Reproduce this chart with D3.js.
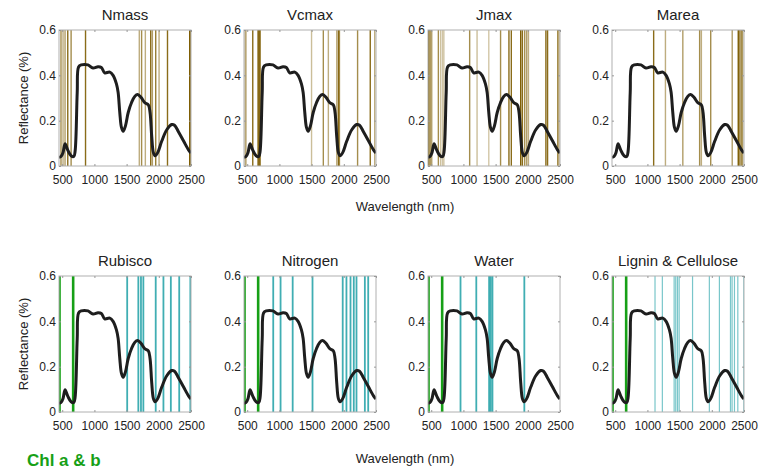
<!DOCTYPE html>
<html>
<head>
<meta charset="utf-8">
<script src="https://cdn.jsdelivr.net/npm/d3@7"></script>
<style>
  body { margin: 0; background: #fff; }
  text { font-family: "Liberation Sans", Arial, sans-serif; fill: #222; }
</style>
</head>
<body>
<svg id="chart" width="769" height="469"></svg>
<script>
// mean leaf reflectance spectrum
const wavelengths = [450, 481, 513, 544, 586, 638, 680, 700, 733, 754, 795, 900, 978, 1056, 1108, 1160,
  1238, 1290, 1342, 1368, 1394, 1420, 1447, 1483, 1525, 1577, 1629, 1671, 1723, 1786, 1838, 1864,
  1890, 1916, 1942, 1983, 2046, 2124, 2202, 2244, 2307, 2385, 2464, 2500];
const reflectance = [0.038, 0.042, 0.06, 0.098, 0.07, 0.045, 0.042, 0.065, 0.325, 0.437, 0.446, 0.446,
  0.432, 0.438, 0.435, 0.411, 0.414, 0.40, 0.362, 0.325, 0.236, 0.17, 0.153, 0.178, 0.236, 0.28, 0.308,
  0.315, 0.303, 0.278, 0.27, 0.236, 0.13, 0.059, 0.045, 0.059, 0.11, 0.16, 0.183, 0.18, 0.15, 0.11, 0.07, 0.057];

const xTicks = [500, 1000, 1500, 2000, 2500];
const yTicks = [0, 0.2, 0.4, 0.6];

// top row: selected bands per trait, with a weight (shade of the line)
const topTitles = ["Nmass", "Vcmax", "Jmax", "Marea"];
const nmassBands = [481, 513, 544, 586, 638, 862, 1697, 1733, 1791, 1874, 1900, 1952, 2004, 2135, 2480, 2496];
const nmassWeights = [0.7, 0.5, 0.6, 0.9, 0.7, 0.9, 0.5, 0.7, 0.5, 0.9, 0.6, 0.8, 0.5, 0.9, 1, 0.8];
const vcmaxBands = [466, 481, 586, 669, 685, 700, 1499, 1682, 1760, 1890, 1916, 1932, 2214, 2411, 2480];
const vcmaxWeights = [0.4, 0.5, 0.9, 1, 1, 0.9, 0.4, 0.7, 0.5, 0.5, 0.9, 0.7, 0.7, 0.9, 0.5];
const jmaxBands = [455, 481, 508, 611, 648, 680, 700, 1097, 1212, 1394, 1577, 1707, 1744, 1890, 1916,
  1952, 1983, 2010, 2281, 2307, 2464, 2484];
const jmaxWeights = [0.9, 0.9, 0.6, 0.7, 0.4, 0.4, 0.25, 0.7, 0.4, 0.35, 0.7, 0.9, 0.9, 1, 0.9,
  0.7, 0.6, 0.5, 0.9, 0.9, 0.7, 0.5];
const mareaBands = [1097, 1280, 1550, 1811, 1838, 1983, 2317, 2411, 2437, 2464, 2480];
const mareaWeights = [0.9, 0.5, 0.6, 0.7, 0.5, 0.7, 0.6, 1, 0.9, 0.7, 0.5];

// bottom row: known absorption features
const bottomTitles = ["Rubisco", "Nitrogen", "Water", "Lignin & Cellulose"];
const chlBands = [458, 670];
const rubiscoBands = [1509, 1682, 1723, 1760, 1952, 2072, 2187, 2317, 2490];
const nitrogenBands = [904, 1018, 1206, 1514, 1983, 2041, 2104, 2155, 2197, 2327, 2379];
const waterBands = [955, 1200, 1399, 1425, 1451, 1946];
const ligninBands = [1118, 1232, 1415, 1440, 1467, 1493, 1701, 1962, 2118, 2290, 2315, 2352, 2404, 2498];

const svg = d3.select("#chart");
const W = 132, H = 136;
const lefts = [59, 244, 428, 612];
const tops = [30, 276];

const x = d3.scaleLinear().domain([450, 2500]).range([0, W]);
const y = d3.scaleLinear().domain([0, 0.6]).range([H, 0]);

const curve = d3.line()
  .x((d, i) => x(wavelengths[i]))
  .y(d => y(d))
  .curve(d3.curveCatmullRom);

function panel(row, col, title, drawBands) {
  const g = svg.append("g")
    .attr("transform", "translate(" + lefts[col] + "," + tops[row] + ")");
  const id = "clip" + row + col;
  g.append("clipPath").attr("id", id)
    .append("rect").attr("width", W).attr("height", H);

  const inner = g.append("g").attr("clip-path", "url(#" + id + ")");
  drawBands(inner);

  inner.append("path")
    .datum(reflectance)
    .attr("d", curve)
    .attr("fill", "none")
    .attr("stroke", "#1e1e1e")
    .attr("stroke-width", 3)
    .attr("stroke-linejoin", "round");

  // box with inward ticks
  g.append("rect")
    .attr("width", W).attr("height", H)
    .attr("fill", "none").attr("stroke", "#b0b0b0").attr("stroke-width", 1);

  const xb = g.append("g").attr("transform", "translate(0," + H + ")")
    .call(d3.axisBottom(x).tickValues(xTicks).tickSize(-2).tickPadding(9).tickFormat(d3.format("d")));
  const xt = g.append("g")
    .call(d3.axisTop(x).tickValues(xTicks).tickSize(-2).tickFormat(""));
  const yl = g.append("g")
    .call(d3.axisLeft(y).tickValues(yTicks).tickSize(-2).tickPadding(3).tickFormat(d => d === 0 ? "0" : d3.format(".1f")(d)));
  const yr = g.append("g").attr("transform", "translate(" + W + ",0)")
    .call(d3.axisRight(y).tickValues(yTicks).tickSize(-2).tickFormat(""));
  [xb, xt, yl, yr].forEach(a => {
    a.select(".domain").remove();
    a.selectAll(".tick line").attr("stroke", "#999");
    a.selectAll("text").attr("font-size", 12).attr("fill", "#222")
      .attr("font-family", "Liberation Sans, Arial, sans-serif");
  });

  g.append("text")
    .attr("x", W / 2).attr("y", -10)
    .attr("text-anchor", "middle")
    .attr("font-size", 15)
    .text(title);

  if (col === 0) {
    g.append("text")
      .attr("transform", "translate(-31," + (H / 2) + ") rotate(-90)")
      .attr("text-anchor", "middle")
      .attr("font-size", 13)
      .text("Reflectance (%)");
  }
}

function olive(bands, weights) {
  return function (g) {
    g.selectAll("line.band").data(bands).join("line")
      .attr("class", "band")
      .attr("x1", d => x(d)).attr("x2", d => x(d))
      .attr("y1", 0).attr("y2", H)
      .attr("stroke", "#7d5c00")
      .attr("stroke-opacity", (d, i) => weights[i])
      .attr("stroke-width", 1.4);
  };
}

function teal(bands) {
  return function (g) {
    g.selectAll("line.band").data(bands).join("line")
      .attr("class", "band")
      .attr("x1", d => x(d)).attr("x2", d => x(d))
      .attr("y1", 0).attr("y2", H)
      .attr("stroke", "#1fa0a6")
      .attr("stroke-opacity", bands === ligninBands ? 0.6 : 0.85)
      .attr("stroke-width", bands === ligninBands ? 1.2 : 1.8);
    g.selectAll("line.chl").data(chlBands).join("line")
      .attr("class", "chl")
      .attr("x1", d => x(d)).attr("x2", d => x(d))
      .attr("y1", 0).attr("y2", H)
      .attr("stroke", "#17a017")
      .attr("stroke-width", 2.6);
  };
}

panel(0, 0, topTitles[0], olive(nmassBands, nmassWeights));
panel(0, 1, topTitles[1], olive(vcmaxBands, vcmaxWeights));
panel(0, 2, topTitles[2], olive(jmaxBands, jmaxWeights));
panel(0, 3, topTitles[3], olive(mareaBands, mareaWeights));
panel(1, 0, bottomTitles[0], teal(rubiscoBands));
panel(1, 1, bottomTitles[1], teal(nitrogenBands));
panel(1, 2, bottomTitles[2], teal(waterBands));
panel(1, 3, bottomTitles[3], teal(ligninBands));

// shared x labels
[211, 463].forEach(yy => {
  svg.append("text")
    .attr("x", 405).attr("y", yy)
    .attr("text-anchor", "middle")
    .attr("font-size", 13)
    .text("Wavelength (nm)");
});

svg.append("text")
  .attr("x", 27).attr("y", 466)
  .attr("font-size", 17)
  .attr("font-weight", "bold")
  .style("fill", "#17a017")
  .text("Chl a & b");
</script>
</body>
</html>
